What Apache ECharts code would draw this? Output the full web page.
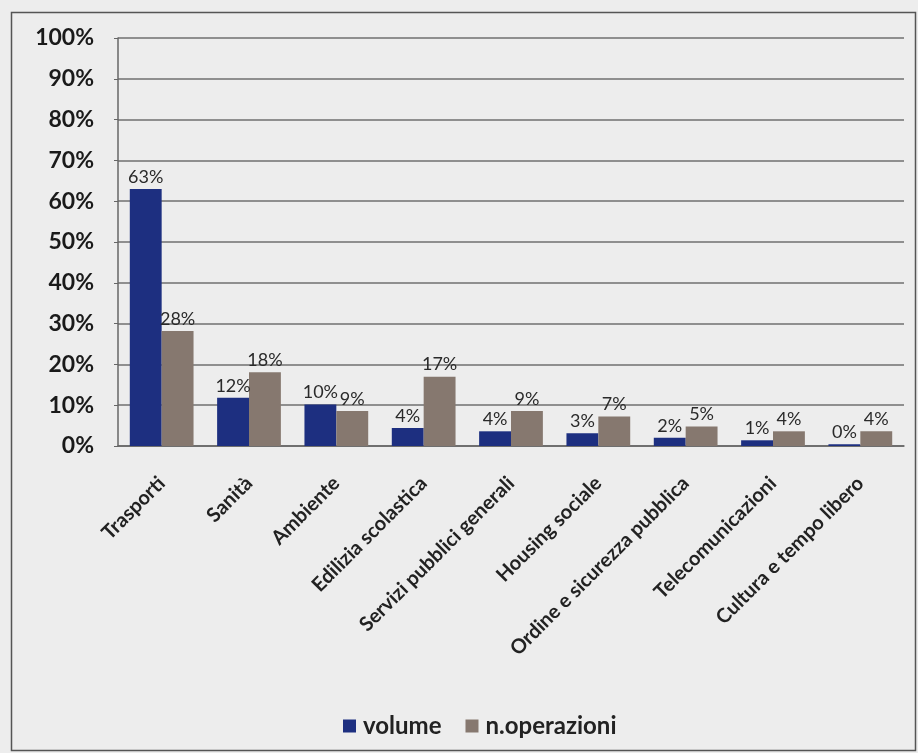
<!DOCTYPE html>
<html>
<head>
<meta charset="utf-8">
<script src="https://cdn.jsdelivr.net/npm/echarts@6/dist/echarts.min.js"></script>
<style>
html,body{margin:0;padding:0;background:#ededed;}
#chart{width:918px;height:753px;}
</style>
</head>
<body>
<div id="chart"></div>
<script>
const categories = ["Trasporti","Sanità","Ambiente","Edilizia scolastica","Servizi pubblici generali","Housing sociale","Ordine e sicurezza pubblica","Telecomunicazioni","Cultura e tempo libero"];
const volume = [63.0, 11.8, 10.2, 4.4, 3.6, 3.1, 2.0, 1.4, 0.4];
const operazioni = [28.2, 18.1, 8.6, 17.0, 8.6, 7.2, 4.8, 3.6, 3.6];
const yTicks = [0, 10, 20, 30, 40, 50, 60, 70, 80, 90, 100];

const chart = echarts.init(document.getElementById('chart'));
const labelStyle = {
  show: true, position: 'top', distance: 3,
  fontFamily: 'Lato', fontSize: 18, color: '#2a2a2a',
  formatter: p => Math.round(p.value) + '%'
};
chart.setOption({
  backgroundColor: '#ededed',
  animation: false,
  graphic: [{
    type: 'rect', left: 9, top: 10,
    shape: {width: 904, height: 738},
    style: {fill: 'none', stroke: '#555', lineWidth: 1.5}
  }],
  grid: {left: 118, right: 14, top: 38, bottom: 307, containLabel: false},
  legend: {
    top: 709, left: 338,
    itemWidth: 13, itemHeight: 13, itemGap: 24,
    icon: 'rect',
    textStyle: {fontFamily: 'Lato', fontSize: 24, fontWeight: 'bold', color: '#222', padding: [0, 0, 0, 2]},
    data: ['volume', 'n.operazioni']
  },
  xAxis: {
    type: 'category', data: categories,
    axisLine: {lineStyle: {color: '#666', width: 1.5}},
    axisTick: {show: false},
    axisLabel: {rotate: 45, interval: 0, margin: 34, fontFamily: 'Lato', fontSize: 20, fontWeight: 'bold', color: '#222'}
  },
  yAxis: {
    type: 'value', min: 0, max: 100, interval: 10,
    axisLine: {show: true, lineStyle: {color: '#666', width: 1.5}},
    axisTick: {show: true, length: 4, lineStyle: {color: '#666'}},
    splitLine: {lineStyle: {color: '#6f6f6f', width: 1.5}},
    axisLabel: {
      margin: 24, fontFamily: 'Lato', fontSize: 23, fontWeight: 'bold', color: '#1a1a1a',
      formatter: v => yTicks.includes(v) ? v + '%' : ''
    }
  },
  series: [
    {name: 'volume', type: 'bar', data: volume, barGap: '0%', barCategoryGap: '27%',
     itemStyle: {color: '#1d2f80'}, label: labelStyle},
    {name: 'n.operazioni', type: 'bar', data: operazioni,
     itemStyle: {color: '#86786f'}, label: labelStyle}
  ]
});
</script>
</body>
</html>
